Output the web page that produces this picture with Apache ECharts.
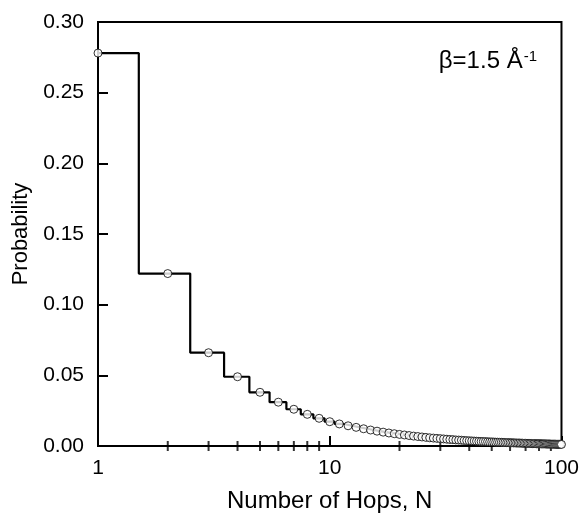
<!DOCTYPE html>
<html>
<head>
<meta charset="utf-8">
<script src="https://cdn.jsdelivr.net/npm/echarts@6/dist/echarts.min.js"></script>
<style>
  html, body { margin: 0; padding: 0; background: #fff; }
  #container { width: 582px; height: 519px; }
</style>
</head>
<body>
<div id="container"></div>
<script>
  // number of hops N = 1..100
  let hops = [];
  for (let i = 1; i <= 100; i++) hops.push(i);

  // probability, one per N
  let prob = [
    0.278, 0.122, 0.066, 0.049, 0.038, 0.031, 0.026, 0.0224, 0.0196, 0.0172,
    0.0156, 0.0143, 0.0132, 0.0122, 0.0113, 0.0105, 0.0098, 0.0092, 0.0087, 0.0082,
    0.0078, 0.0074, 0.0070, 0.0067, 0.0064, 0.0061, 0.0058, 0.0056, 0.0054, 0.0052,
    0.0050, 0.0048, 0.0046, 0.0045, 0.0043, 0.0042, 0.0041, 0.0039, 0.0038, 0.0037,
    0.0036, 0.0035, 0.0034, 0.0033, 0.0032, 0.0032, 0.0031, 0.0030, 0.0029, 0.0029,
    0.0028, 0.0027, 0.0027, 0.0026, 0.0026, 0.0025, 0.0025, 0.0024, 0.0024, 0.0023,
    0.0023, 0.0022, 0.0022, 0.0021, 0.0021, 0.0021, 0.0020, 0.0020, 0.0019, 0.0019,
    0.0019, 0.0018, 0.0018, 0.0018, 0.0017, 0.0017, 0.0017, 0.0016, 0.0016, 0.0016,
    0.0016, 0.0015, 0.0015, 0.0015, 0.0015, 0.0014, 0.0014, 0.0014, 0.0014, 0.0013,
    0.0013, 0.0013, 0.0013, 0.0013, 0.0012, 0.0012, 0.0012, 0.0012, 0.0012, 0.0011
  ];

  let yTicks = [0, 0.30, 0.05];
  let minorX = [2, 3, 4, 5, 6, 7, 8, 9, 20, 30, 40, 50, 60, 70, 80, 90];

  // histogram bars: each bin spans N-0.5 .. N+0.5, clipped to the axis
  let stepData = [];
  for (let i = 0; i < hops.length; i++) {
    let lo = Math.max(1, hops[i] - 0.5);
    let hi = Math.min(100, hops[i] + 0.5);
    stepData.push([lo, prob[i]]);
    stepData.push([hi, prob[i]]);
  }
  let pointData = hops.map((n, i) => [n, prob[i]]);

  let font = 'Liberation Sans, Arial, sans-serif';
  let myChart = echarts.init(document.getElementById('container'));
  let option = {
    animation: false,
    title: {
      text: '{a|β=1.5 Å}{s|-1}',
      right: 40,
      top: 44,
      textStyle: {
        rich: {
          a: { fontSize: 24, fontFamily: font, fontWeight: 'normal', color: '#000' },
          s: { fontSize: 15, fontFamily: font, fontWeight: 'normal', color: '#000', verticalAlign: 'top', padding: [0, 0, 10, 1] }
        }
      }
    },
    grid: {
      left: 98, right: 19, top: 22, bottom: 73,
      show: true, borderColor: '#000', borderWidth: 2, backgroundColor: 'transparent'
    },
    xAxis: {
      type: 'log',
      logBase: 10,
      min: 1,
      max: 100,
      name: 'Number of Hops, N',
      nameLocation: 'middle',
      nameGap: 43,
      nameTextStyle: { fontSize: 24, fontFamily: font, color: '#000' },
      axisLine: { lineStyle: { color: '#000', width: 2 } },
      axisTick: { inside: true, length: 10, lineStyle: { color: '#000', width: 2 } },
      minorTick: { show: false },
      splitLine: { show: false },
      axisLabel: { fontSize: 21, fontFamily: font, color: '#000', margin: 12 }
    },
    yAxis: {
      type: 'value',
      min: yTicks[0],
      max: yTicks[1],
      interval: yTicks[2],
      name: 'Probability',
      nameLocation: 'middle',
      nameGap: 66,
      nameTextStyle: { fontSize: 22, fontFamily: font, color: '#000' },
      axisLine: { lineStyle: { color: '#000', width: 2 } },
      axisTick: { inside: true, length: 10, lineStyle: { color: '#000', width: 2 } },
      splitLine: { show: false },
      axisLabel: {
        fontSize: 21, fontFamily: font, color: '#000', margin: 14,
        formatter: v => v.toFixed(2)
      }
    },
    series: [
      {
        type: 'line',
        data: stepData,
        symbol: 'none',
        lineStyle: { color: '#000', width: 2.2 },
        z: 2
      },
      {
        // minor ticks on the log axis
        type: 'scatter',
        data: minorX.map(v => [v, 0]),
        symbol: 'rect',
        symbolSize: [2, 10],
        itemStyle: { color: '#000' },
        silent: true,
        z: 1
      },
      {
        type: 'scatter',
        data: pointData,
        symbol: 'circle',
        symbolSize: 8,
        itemStyle: { color: '#fff', borderColor: '#000', borderWidth: 1 },
        z: 3
      }
    ]
  };
  myChart.setOption(option, true);
</script>
</body>
</html>
